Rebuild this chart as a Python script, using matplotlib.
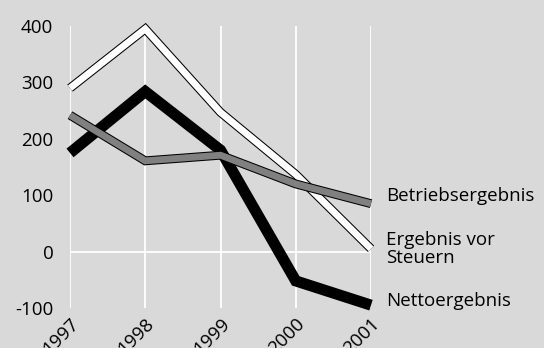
import matplotlib
matplotlib.use("Agg")
import matplotlib.pyplot as plt

years = [1997, 1998, 1999, 2000, 2001]
betriebsergebnis = [242, 161, 171, 120, 85]
ergebnis_vor_steuern = [290, 395, 247, 137, 5]
nettoergebnis = [175, 284, 180, -52, -95]
y_ticks = [-100, 0, 100, 200, 300, 400]

bg = "#d9d9d9"
plt.rcParams["font.family"] = ["Open Sans", "DejaVu Sans"]

fig = plt.figure(figsize=(5.44, 3.48), dpi=100, facecolor=bg)
ax = fig.add_axes([0.1287, 0.115, 0.682 - 0.1287, 0.925 - 0.115])
ax.set_facecolor(bg)
ax.set_xlim(1997, 2001)
ax.set_ylim(-100, 391)

for x in years:
    ax.axvline(x, color="white", lw=1.3, zorder=1)
ax.axhline(0, color="white", lw=1.3, zorder=1)

common = dict(solid_capstyle="butt", solid_joinstyle="miter", clip_on=False)

# white band with black outline
ax.plot(years, ergebnis_vor_steuern, color="black", lw=6.4, zorder=2, **common)
ax.plot(years, ergebnis_vor_steuern, color="white", lw=4.9, zorder=2.1, **common)
# thick black line
ax.plot(years, nettoergebnis, color="black", lw=8.0, zorder=3, **common)
# grey band with black outline
ax.plot(years, betriebsergebnis, color="black", lw=6.4, zorder=4, **common)
ax.plot(years, betriebsergebnis, color="#808080", lw=4.9, zorder=4.1, **common)

for s in ax.spines.values():
    s.set_visible(False)

fs = 13.5
ax.set_yticks(y_ticks)
ax.set_yticklabels([str(v) for v in y_ticks], fontsize=fs)
ax.tick_params(axis="y", length=0, pad=12)
ax.set_xticks(years)
ax.set_xticklabels([str(y) for y in years], fontsize=fs, rotation=45,
                   ha="right", va="top", rotation_mode="anchor")
ax.tick_params(axis="x", length=0, pad=5)

lbl = dict(fontsize=fs, ha="left", va="center", clip_on=False)
ax.text(2001.2, betriebsergebnis[-1] + 13, "Betriebsergebnis", **lbl)
ax.text(2001.2, 4, "Ergebnis vor\nSteuern", linespacing=1.0, **lbl)
ax.text(2001.2, -87, "Nettoergebnis", **lbl)

fig.savefig("out.png", dpi=100, facecolor=bg)
